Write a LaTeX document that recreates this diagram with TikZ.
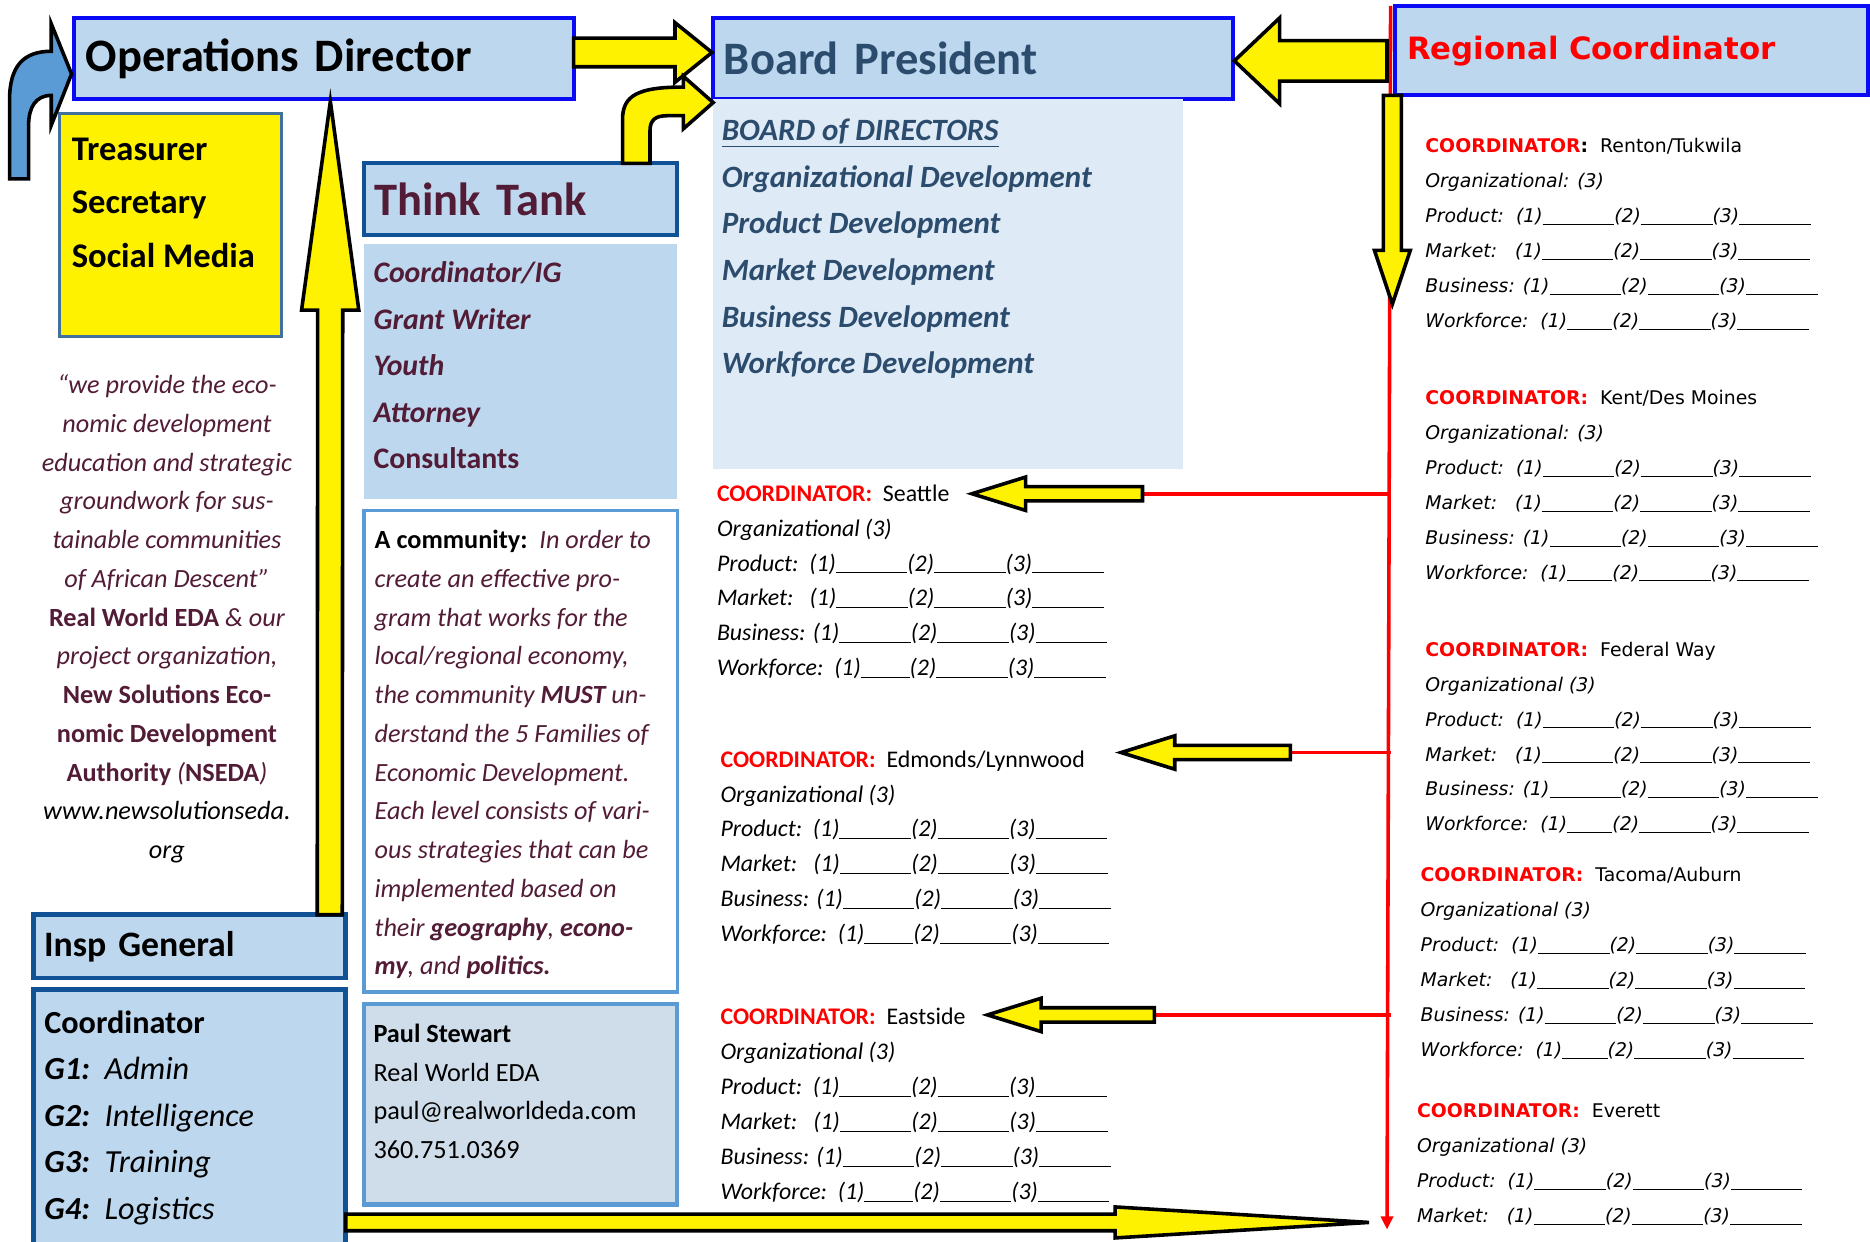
\documentclass[tikz,border=0pt]{standalone}
\usepackage{fontspec}
\setmainfont{Carlito}
\newfontfamily\verdfont{DejaVu Sans}
\usetikzlibrary{calc,arrows.meta}

\newcommand{\fillin}[1]{\rule[-1.8pt]{#1}{0.8pt}}
\newcommand{\coordtitle}[1]{{\upshape\textcolor{red}{\bfseries COORDINATOR:}\ \ #1}}
\newcommand{\planlines}[2]{%
Product:\ \ (1)\fillin{#1}(2)\fillin{#1}(3)\fillin{#1}\\
Market:\ \ \ (1)\fillin{#1}(2)\fillin{#1}(3)\fillin{#1}\\
Business: (1)\fillin{#1}(2)\fillin{#1}(3)\fillin{#1}\\
Workforce:\ \ (1)\fillin{#2}(2)\fillin{#1}(3)\fillin{#1}}
% block arrow: [style]{from}{to}{half shaft}{half head}{head length}
\newcommand{\fatarrow}[6][]{%
  \coordinate (fa) at ($(#3)!#6!(#2)$);
  \draw[fat,#1] ($(#2)!#4!90:(#3)$) -- ($(fa)!#4!90:(#3)$) -- ($(fa)!#5!90:(#3)$) -- (#3)
    -- ($(fa)!#5!-90:(#3)$) -- ($(fa)!#4!-90:(#3)$) -- ($(#2)!#4!-90:(#3)$) -- cycle;}

\begin{document}
\begin{tikzpicture}[x=1pt,y=-1pt,
  titlebox/.style={draw=titledraw, fill=boxfill, line width=3.5pt, inner xsep=10pt, inner ysep=2pt, align=left},
  deepbox/.style={draw=deepdraw, fill=boxfill, line width=4pt, inner sep=0pt},
  panel/.style={inner sep=0pt},
  txt/.style={anchor=north west, inner sep=0pt, align=left},
  rtext/.style={txt, font=\verdfont\fontsize{15.8}{29.3}\selectfont\itshape},
  mtext/.style={txt, font=\fontsize{20}{29.3}\selectfont\itshape},
  fat/.style={fill=yellow, draw=black, line width=3pt, line join=miter},
  redbranch/.style={draw=coordred, line width=3pt}]
%Define all colors here.

\definecolor{boxfill}{RGB}{189,215,238}
\definecolor{boardfill}{RGB}{222,234,246}
\definecolor{paulfill}{RGB}{207,221,234}
\definecolor{titledraw}{RGB}{10,10,245}
\definecolor{deepdraw}{RGB}{17,82,150}
\definecolor{treasdraw}{RGB}{65,113,156}
\definecolor{softdraw}{RGB}{91,155,213}
\definecolor{maroontext}{RGB}{82,28,54}
\definecolor{slatetext}{RGB}{44,76,110}
\definecolor{coordred}{RGB}{255,0,0}

\useasboundingbox (0,0) rectangle (1568,1041);
\fill[white] (0,0) rectangle (1568,1041);

%top row
\node(ops) at (271.5,49) [titlebox, minimum height=68pt, text width=399pt, font=\fontsize{39}{42}\selectfont\bfseries] {Operations Director};
\node(board) at (816,49) [titlebox, minimum height=68pt, text width=418pt, inner xsep=9pt, text=slatetext, font=\fontsize{39}{42}\selectfont\bfseries] {Board President};
\node(regional) at (1368,42.5) [titlebox, minimum height=75pt, text width=376pt, text=coordred, font=\verdfont\fontsize{25.8}{28}\selectfont\bfseries] {Regional Coordinator};

\node(boardpanel) at (795,238) [panel, fill=boardfill, minimum width=394pt, minimum height=310pt] {};
\node(boardlist) at (605,90.7) [txt, text=slatetext, font=\fontsize{26}{39}\selectfont\bfseries\itshape] {\strut\underline{BOARD of DIRECTORS}\\ Organizational Development\\ Product Development\\ Market Development\\ Business Development\\ Workforce Development};

%left column
\node(treas) at (143,188.5) [panel, draw=treasdraw, fill=yellow, line width=3pt, minimum width=186pt, minimum height=187pt] {};
\node(treaslist) at (60,102.5) [txt, font=\fontsize{29}{45}\selectfont\bfseries] {\strut Treasurer\\ Secretary\\ Social Media};

\node(quote) at (140,307) [anchor=north, inner sep=0pt, align=center, text=maroontext, font=\fontsize{22}{32.5}\selectfont\itshape] {\strut “we provide the eco-\\ nomic development\\ education and strategic\\ groundwork for sus-\\ tainable communities\\ of African Descent”\\ \textbf{\upshape Real World EDA} \& our\\ project organization,\\ \textbf{\upshape New Solutions Eco-}\\ \textbf{\upshape nomic Development}\\ \textbf{\upshape Authority} (\textbf{\upshape NSEDA})\\ \textcolor{black}{www.newsolutionseda.}\\ \textcolor{black}{org}};

\node(insp) at (159,793.5) [deepbox, minimum width=262pt, minimum height=53pt, text width=244pt, inner xsep=9pt, align=left, font=\fontsize{30}{32}\selectfont\bfseries] {Insp General};
\node(igpanel) at (159,940) [deepbox, minimum width=262pt, minimum height=220pt] {};
\node(iglist) at (37,838.7) [txt, font=\fontsize{27}{39}\selectfont] {\strut\textbf{Coordinator}\\ \textbf{\itshape G1:}\ \ \textit{Admin}\\ \textbf{\itshape G2:}\ \ \textit{Intelligence}\\ \textbf{\itshape G3:}\ \ \textit{Training}\\ \textbf{\itshape G4:}\ \ \textit{Logistics}};

%think tank column
\node(think) at (436.5,167) [deepbox, line width=3.5pt, minimum height=60pt, text width=245pt, inner xsep=9pt, align=left, text=maroontext, font=\fontsize{39}{42}\selectfont\bfseries] {Think Tank};
\node(thinkpanel) at (436.5,311.5) [panel, fill=boxfill, minimum width=263pt, minimum height=213pt] {};
\node(thinklist) at (313,209.7) [txt, text=maroontext, font=\fontsize{25}{39}\selectfont\bfseries\itshape] {\strut Coordinator/IG\\ Grant Writer\\ Youth\\ Attorney\\ \upshape Consultants};

\node(community) at (436.5,630) [panel, draw=softdraw, fill=white, line width=3pt, minimum width=263pt, minimum height=404pt] {};
\node(commtext) at (314,437) [txt, text=maroontext, font=\fontsize{22}{32.5}\selectfont\itshape] {\strut\textcolor{black}{\upshape\bfseries A community:}\ \ In order to\\ create an effective pro-\\ gram that works for the\\ local/regional economy,\\ the community \textbf{MUST} un-\\ derstand the 5 Families of\\ Economic Development.\\ Each level consists of vari-\\ ous strategies that can be\\ implemented based on\\ their \textbf{geography}, \textbf{econo-}\\ \textbf{my}, and \textbf{politics.}};

\node(paul) at (436.5,926) [panel, draw=softdraw, fill=paulfill, line width=3.5pt, minimum width=263pt, minimum height=168pt] {};
\node(paultext) at (313,851.4) [txt, font=\fontsize{22}{32.3}\selectfont] {\strut\textbf{Paul Stewart}\\ Real World EDA\\ paul@realworldeda.com\\ 360.751.0369};

%middle coordinators
\node(seattle) at (601,399.5) [mtext] {\strut\coordtitle{Seattle}\\ Organizational (3)\\ \planlines{60pt}{41pt}};
\node(edmonds) at (604,622.5) [mtext] {\strut\coordtitle{Edmonds/Lynnwood}\\ Organizational (3)\\ \planlines{60pt}{41pt}};
\node(eastside) at (604,838.5) [mtext] {\strut\coordtitle{Eastside}\\ Organizational (3)\\ \planlines{60pt}{41pt}};

%right coordinators
\node(renton) at (1195,107.5) [rtext] {\strut{\upshape\textcolor{red}{\bfseries COORDINATOR}\textbf{:}\ \ Renton/Tukwila}\\ Organizational: (3)\\ \planlines{60pt}{38pt}};
\node(kent) at (1195,318.5) [rtext] {\strut\coordtitle{Kent/Des Moines}\\ Organizational: (3)\\ \planlines{60pt}{38pt}};
\node(federal) at (1195,529.5) [rtext] {\strut\coordtitle{Federal Way}\\ Organizational (3)\\ \planlines{60pt}{38pt}};
\node(tacoma) at (1191,718.5) [rtext] {\strut\coordtitle{Tacoma/Auburn}\\ Organizational (3)\\ \planlines{60pt}{38pt}};
\node(everett) at (1188,916.5) [rtext] {\strut\coordtitle{Everett}\\ Organizational (3)\\ Product:\ \ (1)\fillin{60pt}(2)\fillin{60pt}(3)\fillin{60pt}\\ Market:\ \ \ (1)\fillin{60pt}(2)\fillin{60pt}(3)\fillin{60pt}};

%red feed line
\coordinate(trunktop) at (1166,5);
\coordinate(trunkend) at (1163,1031);
\coordinate(seattletail) at (958,414);
\coordinate(seattletip) at (815,414);
\coordinate(edmondstail) at (1082,631);
\coordinate(edmondstip) at (940,631);
\coordinate(eastsidetail) at (968,851);
\coordinate(eastsidetip) at (828,851);
\draw[redbranch, -{Triangle[length=11pt,width=10pt]}] (trunktop) -- (trunkend);
\draw[redbranch] (seattletail) -- (seattletail -| trunktop);
\draw[redbranch] (edmondstail) -- (edmondstail -| trunktop);
\draw[redbranch] (eastsidetail) -- (eastsidetail -| trunktop);

%yellow arrows
\coordinate(opsright) at (481,44);
\coordinate(boardleft) at (597,44);
\coordinate(regleft) at (1163,51);
\coordinate(boardright) at (1035,51);
\coordinate(insptop) at (276.5,767);
\coordinate(opsbottom) at (277,85);
\coordinate(regbottom) at (1167.5,80);
\coordinate(downtip) at (1167.5,255);
\coordinate(igright) at (290,1025);
\coordinate(bottomtip) at (1148,1025);
\fatarrow{opsright}{boardleft}{12pt}{25pt}{31pt}
\fatarrow{regleft}{boardright}{17pt}{36pt}{38pt}
\fatarrow{insptop}{opsbottom}{10.5pt}{24pt}{175pt}
\fatarrow{regbottom}{downtip}{7.5pt}{15pt}{45pt}
\fatarrow{seattletail}{seattletip}{6pt}{14pt}{45pt}
\fatarrow{edmondstail}{edmondstip}{6pt}{14pt}{45pt}
\fatarrow{eastsidetail}{eastsidetip}{6pt}{14pt}{45pt}
\fatarrow{igright}{bottomtip}{7pt}{13pt}{213pt}

%bent arrows
\draw[fill=softdraw, draw=black, line width=3pt, line join=miter] (8,150) -- (8,84) .. controls (8,55) and (20,43) .. (43,43) -- (43,20) -- (60,62) -- (43,105) -- (43,80) .. controls (30,80) and (24,90) .. (24,105) -- (24,150) -- cycle;
\draw[fat] (522,137) -- (522,100) .. controls (522,80) and (535,73) .. (573,73) -- (573,64) -- (598,86) -- (573,108) -- (573,97) -- (560,97) .. controls (550,97) and (545,100) .. (545,110) -- (545,137) -- cycle;
\end{tikzpicture}
\end{document}
